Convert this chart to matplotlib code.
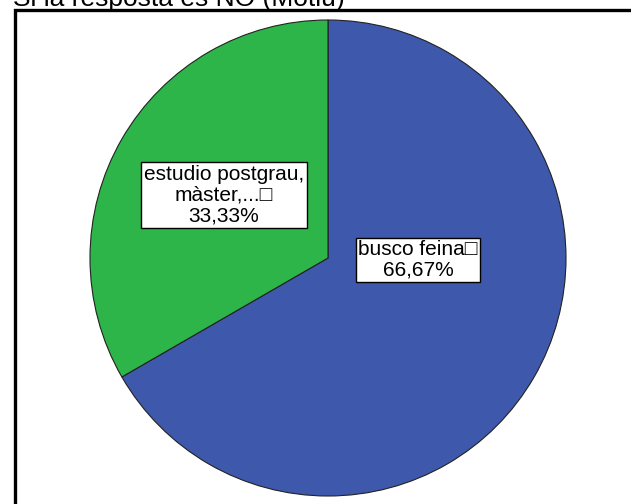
import matplotlib
matplotlib.use("Agg")
import matplotlib.pyplot as plt
from matplotlib.patches import Rectangle

plt.rcParams['font.family'] = ['Liberation Sans', 'DejaVu Sans']

title = "Si la resposta es NO (Motiu)"
categories = ["busco feina", "estudio postgrau,\nmàster,..."]
values = [66.67, 33.33]
pct_labels = ["66,67%", "33,33%"]
colors = ["#3E58AC", "#2DB54A"]

W, H = 631, 504
fig = plt.figure(figsize=(W / 100, H / 100), dpi=100)

# frame (cropped chart border)
fig.patches.append(Rectangle((15 / W, -0.1), 1.2, (H - 10) / H + 0.1,
                             transform=fig.transFigure, fill=False,
                             edgecolor='black', linewidth=2.4, zorder=0))

# title, partly cut off at the top
fig.text(13 / W, 1 - 6 / H, title, fontsize=19, ha='left', va='baseline')

cx, cy, r = 328, 258, 238
ax = fig.add_axes([(cx - r) / W, (H - cy - r) / H, 2 * r / W, 2 * r / H])
wedges, _ = ax.pie(values, colors=colors, startangle=90, counterclock=False,
                   radius=1, wedgeprops=dict(edgecolor='#222222', linewidth=0.8))
ax.set_xlim(-1, 1)
ax.set_ylim(-1, 1)
ax.axis('off')

label_pos = [(0.378, -0.008), (-0.437, 0.265)]
for cat, pct, (x, y) in zip(categories, pct_labels, label_pos):
    ax.text(x, y, f"{cat}\u25a1\n{pct}", ha='center', va='center', fontsize=15,
            linespacing=1.12,
            bbox=dict(boxstyle='square,pad=0.12', facecolor='white',
                      edgecolor='black', linewidth=1))

fig.savefig("out.png", dpi=100)
